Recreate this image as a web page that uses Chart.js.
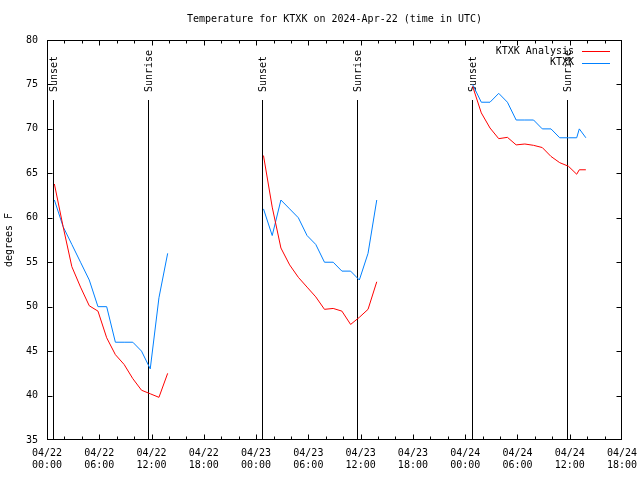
<!DOCTYPE html>
<html>
<head>
<meta charset="utf-8">
<script src="https://cdn.jsdelivr.net/npm/chart.js@4.4.1/dist/chart.umd.min.js"></script>
<style>
  html, body { margin: 0; padding: 0; background: #fff; }
  #wrap { width: 640px; height: 480px; }
</style>
</head>
<body>
<div id="wrap"><canvas id="tempChart" width="640" height="480"></canvas></div>
<script>
// times are hours since 04/22 00:00 UTC
const obsHours1 = [0.85, 1.85, 2.85, 3.85, 4.85, 5.85, 6.85, 7.85, 8.85, 9.85, 10.85, 11.85, 12.85, 13.85];
const obsHours2 = [24.85, 25.85, 26.85, 27.85, 28.85, 29.85, 30.85, 31.85, 32.85, 33.85, 34.85, 35.85, 36.85, 37.85];
const obsHours3 = [48.85, 49.85, 50.85, 51.85, 52.85, 53.85, 54.85, 55.85, 56.85, 57.85, 58.85, 59.85, 60.8, 61.1, 61.85];

const analysis1 = [63.8, 59.0, 54.5, 52.2, 50.1, 49.5, 46.5, 44.6, 43.5, 41.9, 40.6, 40.2, 39.8, 42.5];
const analysis2 = [67.0, 61.2, 56.6, 54.7, 53.3, 52.2, 51.1, 49.7, 49.8, 49.5, 48.0, 48.8, 49.7, 52.8];
const analysis3 = [74.8, 71.8, 70.1, 68.9, 69.05, 68.2, 68.3, 68.15, 67.9, 66.9, 66.2, 65.8, 64.9, 65.4, 65.4];

const station1 = [62, 59, 57, 55, 53, 50, 50, 46, 46, 46, 45, 43, 51, 56];
const station2 = [61, 58, 62, 61, 60, 58, 57, 55, 55, 54, 54, 53, 56, 62];
const station3 = [75, 73, 73, 74, 73, 71, 71, 71, 70, 70, 69, 69, 69, 70, 69];

const sunEvents = ["Sunset", "Sunrise", "Sunset", "Sunrise", "Sunset", "Sunrise"];
const sunHours = [0.73, 11.63, 24.73, 35.63, 48.77, 59.67];

const seriesNames = ["KTXK Analysis", "KTXK"];
const seriesColors = ["#ff0000", "#0080ff"];

const FAMILY = "'DejaVu Sans Mono', 'Liberation Mono', monospace";
const FONT = "10px " + FAMILY;
const markerTop = 73.3;

// join the days into one list, with a null between days so the line breaks
function joinDays(hours, values) {
  let pts = [];
  for (let d = 0; d < hours.length; d++) {
    if (d > 0) pts.push({ x: hours[d][0] - 0.5, y: null });
    for (let i = 0; i < hours[d].length; i++) {
      pts.push({ x: hours[d][i], y: values[d][i] });
    }
  }
  return pts;
}

function pad2(n) {
  return (n < 10 ? "0" : "") + n;
}

// border, inward ticks, sun markers, title and legend in gnuplot style
const gnuplotLook = {
  id: "gnuplotLook",
  beforeDatasetsDraw(chart) {
    const ctx = chart.ctx;
    const xs = chart.scales.x;
    const ys = chart.scales.y;
    ctx.save();
    ctx.strokeStyle = "#000";
    ctx.lineWidth = 1;
    ctx.fillStyle = "#000";
    ctx.font = FONT;
    for (let i = 0; i < sunHours.length; i++) {
      const px = Math.round(xs.getPixelForValue(sunHours[i])) + 0.5;
      const top = Math.round(ys.getPixelForValue(markerTop));
      ctx.beginPath();
      ctx.moveTo(px, ys.getPixelForValue(35));
      ctx.lineTo(px, top);
      ctx.stroke();
      ctx.save();
      ctx.translate(px + 1, top - 8);
      ctx.rotate(-Math.PI / 2);
      ctx.textAlign = "left";
      ctx.textBaseline = "middle";
      ctx.fillText(sunEvents[i], 0, 0);
      ctx.restore();
    }
    ctx.restore();
  },
  afterDatasetsDraw(chart) {
    const ctx = chart.ctx;
    const a = chart.chartArea;
    const xs = chart.scales.x;
    const ys = chart.scales.y;
    ctx.save();
    ctx.strokeStyle = "#000";
    ctx.lineWidth = 1;
    const L = Math.round(a.left) + 0.5, R = Math.round(a.right) - 0.5;
    const T = Math.round(a.top) + 0.5, B = Math.round(a.bottom) - 0.5;
    ctx.beginPath();
    // x ticks every 2 hours, longer every 6
    for (let h = 0; h <= 66; h += 2) {
      const px = Math.min(R, Math.round(xs.getPixelForValue(h)) + 0.5);
      const len = h % 6 === 0 ? 5 : 3;
      ctx.moveTo(px, B); ctx.lineTo(px, B - len);
      ctx.moveTo(px, T); ctx.lineTo(px, T + len);
    }
    for (let v = 35; v <= 80; v += 5) {
      const py = Math.min(B, Math.round(ys.getPixelForValue(v)) + 0.5);
      ctx.moveTo(L, py); ctx.lineTo(L + 5, py);
      ctx.moveTo(R, py); ctx.lineTo(R - 5, py);
    }
    ctx.stroke();
    ctx.strokeRect(L, T, R - L, B - T);

    ctx.fillStyle = "#000";
    ctx.font = FONT;
    ctx.textBaseline = "middle";
    ctx.textAlign = "center";
    ctx.fillText("Temperature for KTXK on 2024-Apr-22 (time in UTC)", (a.left + a.right) / 2, 19);

    // legend, text right aligned with line sample after it
    ctx.textAlign = "right";
    for (let i = 0; i < seriesNames.length; i++) {
      const y = 51 + i * 11.5;
      ctx.fillStyle = "#000";
      ctx.fillText(seriesNames[i], a.right - 48, y);
      ctx.strokeStyle = seriesColors[i];
      ctx.beginPath();
      ctx.moveTo(a.right - 40, Math.round(y) + 0.5);
      ctx.lineTo(a.right - 12, Math.round(y) + 0.5);
      ctx.stroke();
    }
    ctx.restore();
  }
};

const tempChart = new Chart(document.getElementById("tempChart"), {
  type: "scatter",
  data: {
    datasets: [
      {
        label: seriesNames[0],
        data: joinDays([obsHours1, obsHours2, obsHours3], [analysis1, analysis2, analysis3]),
        borderColor: seriesColors[0],
        borderWidth: 1,
        showLine: true,
        spanGaps: false,
        pointRadius: 0,
      },
      {
        label: seriesNames[1],
        data: joinDays([obsHours1, obsHours2, obsHours3], [station1, station2, station3]),
        borderColor: seriesColors[1],
        borderWidth: 1,
        showLine: true,
        spanGaps: false,
        pointRadius: 0,
      },
    ],
  },
  options: {
    responsive: false,
    animation: false,
    layout: { padding: { top: 40, right: 18, bottom: 0, left: 0 } },
    plugins: {
      legend: { display: false },
      title: { display: false },
      tooltip: { enabled: false },
    },
    scales: {
      x: {
        type: "linear",
        min: 0,
        max: 66,
        grid: { display: false, drawTicks: false },
        border: { display: false },
        afterFit: function (scale) {
          scale.height = 40;
          scale.paddingLeft = 0;
          scale.paddingRight = 0;
        },
        afterBuildTicks: function (scale) {
          let t = [];
          for (let h = 0; h <= 66; h += 6) t.push({ value: h });
          scale.ticks = t;
        },
        ticks: {
          autoSkip: false,
          maxRotation: 0,
          padding: 7,
          color: "#000",
          font: { family: FAMILY, size: 10, lineHeight: 1.25 },
          callback: function (v) {
            const day = 22 + Math.floor(v / 24);
            return ["04/" + day, pad2(v % 24) + ":00"];
          },
        },
      },
      y: {
        min: 35,
        max: 80,
        grid: { display: false, drawTicks: false },
        border: { display: false },
        afterFit: function (scale) {
          scale.width = 47;
          scale.paddingTop = 0;
          scale.paddingBottom = 0;
        },
        title: {
          display: true,
          text: "degrees F",
          color: "#000",
          font: { family: FAMILY, size: 10, lineHeight: 1.2 },
          padding: { top: 3, bottom: 0 },
        },
        ticks: {
          stepSize: 5,
          padding: 9,
          color: "#000",
          font: { family: FAMILY, size: 10 },
        },
      },
    },
  },
  plugins: [gnuplotLook],
});
</script>
</body>
</html>
